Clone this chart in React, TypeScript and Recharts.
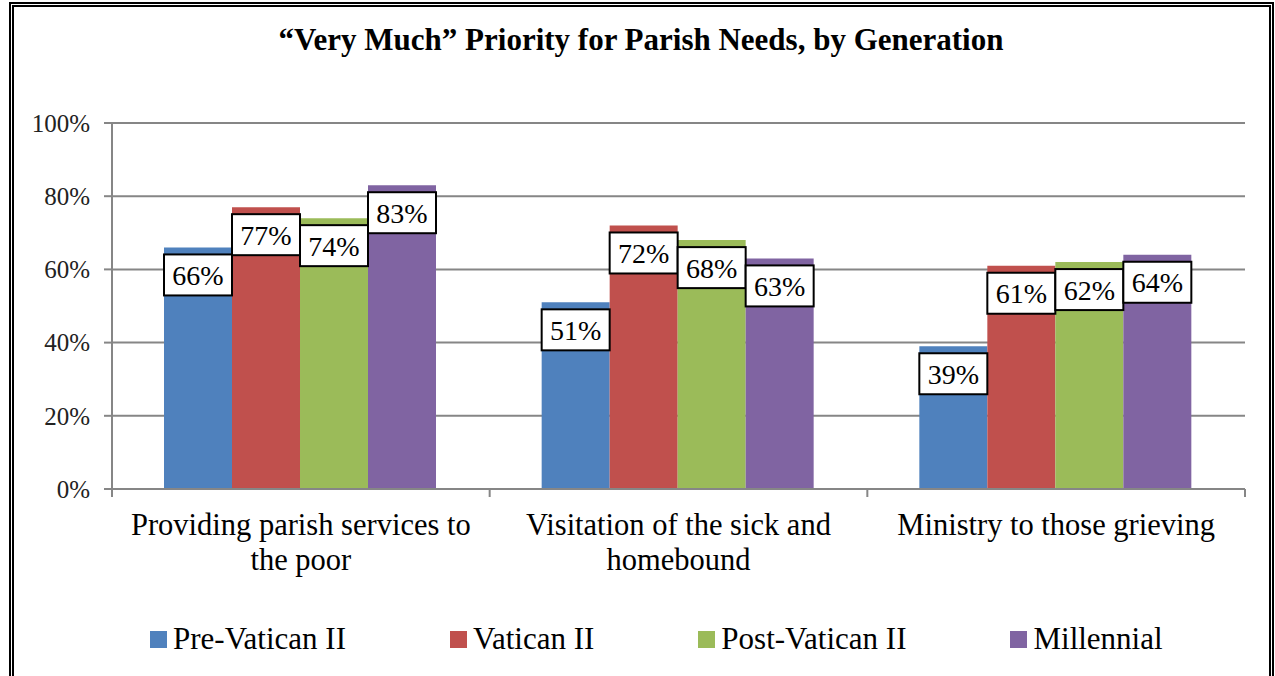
import React from "react";
import { BarChart, Bar, XAxis, YAxis, CartesianGrid, LabelList } from "recharts";

const CATEGORIES = [
  "Providing parish services to\nthe poor",
  "Visitation of the sick and\nhomebound",
  "Ministry to those grieving",
];
const PRE_VATICAN = [66, 51, 39];
const VATICAN = [77, 72, 61];
const POST_VATICAN = [74, 68, 62];
const MILLENNIAL = [83, 63, 64];
const Y_TICKS = [0, 20, 40, 60, 80, 100];

const SERIES = [
  { key: "pre", name: "Pre-Vatican II", color: "#4F81BD", values: PRE_VATICAN },
  { key: "vat", name: "Vatican II", color: "#C0504D", values: VATICAN },
  { key: "post", name: "Post-Vatican II", color: "#9BBB59", values: POST_VATICAN },
  { key: "mil", name: "Millennial", color: "#8064A2", values: MILLENNIAL },
];

const data = CATEGORIES.map((c, i) => {
  const row: Record<string, string | number> = { cat: c };
  SERIES.forEach(s => { row[s.key] = s.values[i]; });
  return row;
});

const FONT = "Liberation Serif";
const AXIS = "#868686";

// white boxed value label, sitting just under the bar top
function BoxLabel(props: any) {
  const { x, y, width, value } = props;
  const top = y + 7;
  return (
    <g>
      <rect x={x} y={top} width={width} height={41} fill="#fff" stroke="#000" strokeWidth={2} />
      <text
        x={x + width / 2}
        y={top + 21}
        textAnchor="middle"
        dominantBaseline="central"
        style={{ fontFamily: FONT, fontSize: 28 }}
        fill="#000"
      >
        {value}%
      </text>
    </g>
  );
}

// category label + tick marks at band edges
function CatTick(props: any) {
  const { x, y, payload, index } = props;
  const half = payload.offset ?? 188.8;
  const axisY = y - 8;
  const lines = String(payload.value).split("\n");
  return (
    <g>
      <line x1={x - half} x2={x - half} y1={axisY} y2={axisY + 8} stroke={AXIS} strokeWidth={2} />
      {index === CATEGORIES.length - 1 && (
        <line x1={x + half} x2={x + half} y1={axisY} y2={axisY + 8} stroke={AXIS} strokeWidth={2} />
      )}
      {lines.map((l, i) => (
        <text key={i} x={x} y={axisY + 46 + i * 35} textAnchor="middle" style={{ fontFamily: FONT, fontSize: 30.5 }} fill="#000">
          {l}
        </text>
      ))}
    </g>
  );
}

export default function App() {
  return (
    <div style={{ position: "absolute", left: 0, top: 0, width: 1275, height: 676, overflow: "hidden", background: "#fff", fontFamily: FONT }}>
      <div
        style={{
          position: "absolute", left: 9, top: 2, width: 1265, height: 720,
          border: "5px double #000", boxSizing: "border-box",
        }}
      />
      <div
        style={{
          position: "absolute", left: 0, top: 25, width: 1282, textAlign: "center",
          fontFamily: FONT, fontSize: 31, fontWeight: "bold", lineHeight: "30px", color: "#000",
        }}
      >
        “Very Much” Priority for Parish Needs, by Generation
      </div>
      <div style={{ position: "absolute", left: 0, top: 0 }}>
        <BarChart
          width={1275}
          height={676}
          data={data}
          margin={{ top: 123, right: 30, left: 0, bottom: 0 }}
          barCategoryGap={52}
          barGap={0}
          style={{ fontFamily: FONT }}
        >
          <CartesianGrid vertical={false} stroke={AXIS} strokeWidth={2} />
          <XAxis
            dataKey="cat"
            height={187}
            tickLine={false}
            tickSize={8}
            tickMargin={0}
            axisLine={{ stroke: AXIS, strokeWidth: 2 }}
            tick={<CatTick />}
            interval={0}
          />
          <YAxis
            width={112}
            domain={[0, 100]}
            ticks={Y_TICKS}
            tickFormatter={v => `${v}%`}
            tickSize={8}
            tickMargin={14}
            tickLine={{ stroke: AXIS, strokeWidth: 2 }}
            axisLine={{ stroke: AXIS, strokeWidth: 2 }}
            tick={{ fontFamily: FONT, fontSize: 25, fill: "#222" }}
          />
          {SERIES.map(s => (
            <Bar key={s.key} dataKey={s.key} name={s.name} fill={s.color} isAnimationActive={false}>
              <LabelList dataKey={s.key} content={<BoxLabel />} />
            </Bar>
          ))}
        </BarChart>
      </div>
      <div
        style={{
          position: "absolute", left: 150, top: 620, display: "flex", alignItems: "center",
          gap: 104, fontFamily: FONT, fontSize: 31, color: "#000", height: 38,
        }}
      >
        {SERIES.map(s => (
          <div key={s.key} style={{ display: "flex", alignItems: "center" }}>
            <span style={{ width: 17, height: 17, background: s.color, marginRight: 6, display: "inline-block" }} />
            <span>{s.name}</span>
          </div>
        ))}
      </div>
    </div>
  );
}
